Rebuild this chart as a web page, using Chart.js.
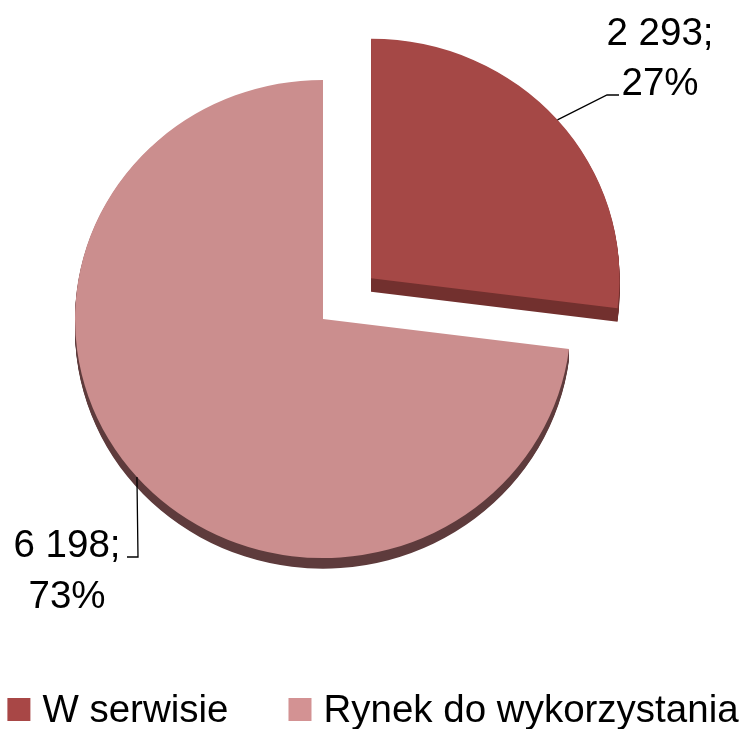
<!DOCTYPE html>
<html>
<head>
<meta charset="utf-8">
<script src="https://cdn.jsdelivr.net/npm/chart.js@4/dist/chart.umd.min.js"></script>
<style>
  html, body { margin: 0; padding: 0; background: #ffffff; }
  #wrap { width: 746px; height: 729px; position: relative; }
</style>
</head>
<body>
<div id="wrap"><canvas id="c" width="746" height="729"></canvas></div>
<script>
// ---- data ----
const categories = ['W serwisie', 'Rynek do wykorzystania'];
const values = [2293, 6198];
const faceColors = ['#A54846', '#CB8E8E'];
const sideColors = ['#72302E', '#5E3B3C'];
const legendColors = ['#A84746', '#D39293'];

// ---- layout / style (not data) ----
const FONT = "38.5px 'Liberation Sans', Arial, sans-serif";
const DEPTHS = [14, 11];
const SQUASH = 0.964;
const labelLayout = [
  { elbow: [607, 95], end: [619, 95], textX: 660, lines: [45, 95], align: 'center' },
  { elbow: [138, 557], end: [127, 557], textX: 67, lines: [557, 608], align: 'center' }
];

function fmt(n) {
  return String(n).replace(/\B(?=(\d{3})+(?!\d))/g, ' ');
}

function arcGeom(arc) {
  const p = arc.getProps(['x', 'y', 'startAngle', 'endAngle', 'outerRadius', 'circumference'], true);
  const off = (arc.options.offset || 0) / 4;
  const mid = (p.startAngle + p.endAngle) / 2;
  const fix = 1 - Math.sin(Math.min(Math.PI, p.circumference || 0));
  return {
    x: p.x, y: p.y,
    cx: p.x + Math.cos(mid) * off,
    cy: p.y + Math.sin(mid) * off,
    r: p.outerRadius + off * fix,
    start: p.startAngle, end: p.endAngle, mid
  };
}

const depthPlugin = {
  id: 'depth',
  beforeDatasetsDraw(chart) {
    const ctx = chart.ctx;
    const meta = chart.getDatasetMeta(0);
    const g0 = arcGeom(meta.data[0]);
    ctx.save();
    ctx.translate(g0.x, g0.y);
    ctx.scale(1, SQUASH);
    ctx.translate(-g0.x, -g0.y);
    meta.data.forEach((arc, i) => {
      const g = arcGeom(arc);
      ctx.fillStyle = sideColors[i];
      for (let t = 1; t <= DEPTHS[i]; t++) {
        ctx.beginPath();
        ctx.moveTo(g.cx, g.cy + t);
        ctx.arc(g.cx, g.cy + t, g.r, g.start, g.end);
        ctx.closePath();
        ctx.fill();
      }
    });
  },
  afterDatasetsDraw(chart) {
    chart.ctx.restore();
  },
  afterDraw(chart) {
    const ctx = chart.ctx;
    const meta = chart.getDatasetMeta(0);
    const total = values.reduce((a, b) => a + b, 0);
    ctx.save();
    meta.data.forEach((arc, i) => {
      const g = arcGeom(arc);
      const ax = g.cx + Math.cos(g.mid) * g.r;
      const ay = g.y + (g.cy + Math.sin(g.mid) * g.r - g.y) * SQUASH;
      const L = labelLayout[i];
      ctx.strokeStyle = '#000';
      ctx.lineWidth = 1.3;
      ctx.beginPath();
      ctx.moveTo(ax, ay);
      ctx.lineTo(L.elbow[0], L.elbow[1]);
      ctx.lineTo(L.end[0], L.end[1]);
      ctx.stroke();
      ctx.fillStyle = '#000';
      ctx.font = FONT;
      ctx.textAlign = L.align;
      ctx.textBaseline = 'alphabetic';
      ctx.fillText(fmt(values[i]) + ';', L.textX, L.lines[0]);
      ctx.fillText(Math.round(values[i] / total * 100) + '%', L.textX, L.lines[1]);
    });
    // legend
    ctx.font = FONT;
    ctx.textAlign = 'left';
    ctx.textBaseline = 'alphabetic';
    const box = 23, gapText = 12, gapItem = 60;
    const widths = categories.map(c => ctx.measureText(c).width);
    const totalW = widths.reduce((s, w) => s + box + gapText + w, 0) + gapItem * (categories.length - 1);
    let x = (chart.width - totalW) / 2;
    const baseY = 722;
    categories.forEach((c, i) => {
      ctx.fillStyle = legendColors[i];
      ctx.fillRect(x, 698, box, box);
      ctx.fillStyle = '#000';
      ctx.fillText(c, x + box + gapText, baseY);
      x += box + gapText + widths[i] + gapItem;
    });
    ctx.restore();
  }
};

new Chart(document.getElementById('c'), {
  type: 'pie',
  data: {
    labels: categories,
    datasets: [{
      data: values,
      backgroundColor: faceColors,
      borderWidth: 0,
      offset: [256, 0],
      radius: 248
    }]
  },
  options: {
    responsive: false,
    animation: false,
    rotation: 0,
    layout: { padding: { left: 0, right: 100, top: 0, bottom: 91 } },
    plugins: {
      legend: { display: false },
      tooltip: { enabled: false }
    }
  },
  plugins: [depthPlugin]
});
</script>
</body>
</html>
